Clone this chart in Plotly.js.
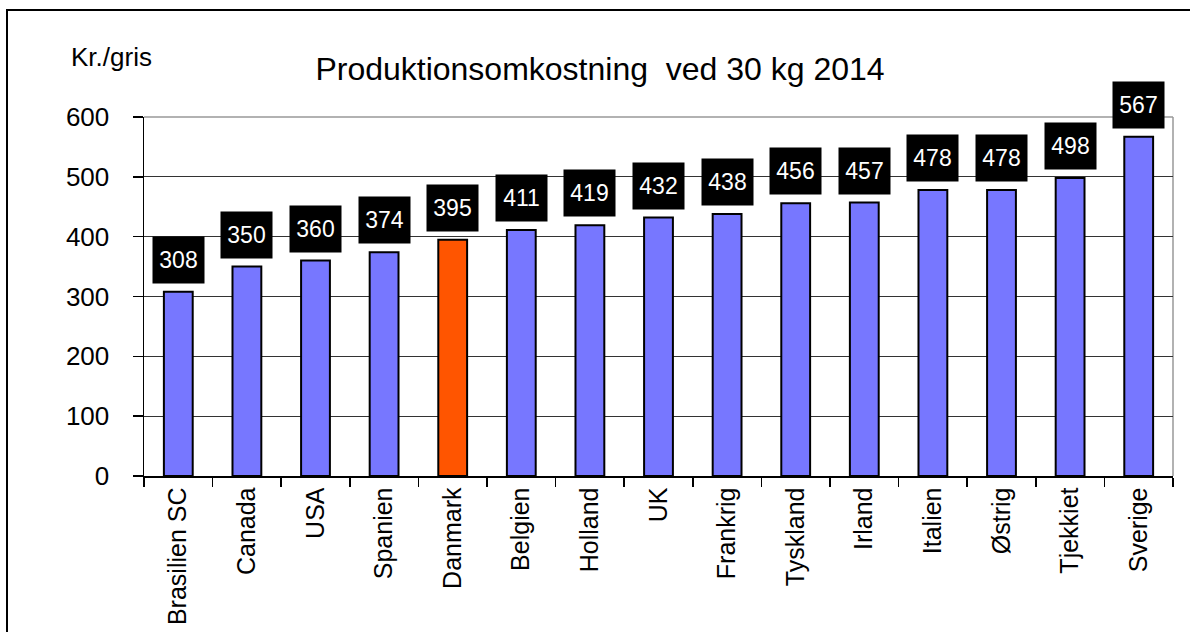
<!DOCTYPE html>
<html>
<head>
<meta charset="utf-8">
<script src="https://cdn.plot.ly/plotly-3.0.1.min.js"></script>
<style>
  html, body { margin: 0; padding: 0; background: #fff; overflow: hidden; }
  #wrap { position: relative; width: 1190px; height: 632px; }
  #chart { width: 1190px; height: 632px; }
  #frame { position: absolute; left: 6px; top: 9px; right: -20px; bottom: -20px;
           border-left: 2px solid #000; border-top: 2px solid #000; pointer-events: none; }
</style>
</head>
<body>
<div id="wrap">
  <div id="chart"></div>
  <div id="frame"></div>
</div>
<script>
const categories = ["Brasilien SC", "Canada", "USA", "Spanien", "Danmark", "Belgien", "Holland", "UK", "Frankrig", "Tyskland", "Irland", "Italien", "Østrig", "Tjekkiet", "Sverige"];
const values = [308, 350, 360, 374, 395, 411, 419, 432, 438, 456, 457, 478, 478, 498, 567];
const highlight = "Danmark";
const titleText = "Produktionsomkostning\u00a0 ved 30 kg 2014";
const unitText = "Kr./gris";

const blue = "#7777FF";
const orange = "#FF5500";
const colors = categories.map(c => c === highlight ? orange : blue);
const FONT = "Liberation Sans, Arial, sans-serif";

const trace = {
  type: "bar",
  x: categories,
  y: values,
  marker: { color: colors, line: { color: "#000", width: 2 } },
  hoverinfo: "x+y"
};

const annotations = categories.map((c, i) => ({
  x: c, y: values[i], xref: "x", yref: "y",
  text: String(values[i]),
  showarrow: false,
  yanchor: "bottom",
  yshift: 8,
  bgcolor: "#000",
  borderpad: 2,
  width: 47,
  height: 42,
  font: { family: FONT, size: 23, color: "#fff" }
}));
annotations.push({
  xref: "paper", yref: "paper",
  x: (69 - 144) / 1029, y: (476 - 57) / 359,
  xanchor: "left", yanchor: "middle",
  text: unitText, showarrow: false,
  font: { family: FONT, size: 26, color: "#000" }
});

const layout = {
  width: 1190, height: 632,
  margin: { l: 144, r: 17, t: 117, b: 156 },
  paper_bgcolor: "#fff", plot_bgcolor: "#fff",
  showlegend: false,
  bargap: 0.58,
  title: {
    text: titleText,
    xref: "container", x: 600 / 1190, xanchor: "center",
    yref: "container", y: 1 - 69 / 632, yanchor: "middle",
    font: { family: FONT, size: 32, color: "#000" }
  },
  xaxis: {
    type: "category",
    tickangle: -90,
    tickfont: { family: FONT, size: 25, color: "#000" },
    showline: true, linecolor: "#000", linewidth: 1.5,
    ticks: "outside", ticklen: 9, tickwidth: 1.5, tickcolor: "#000",
    tickson: "boundaries",
    showgrid: false,
    zeroline: false,
    fixedrange: true
  },
  yaxis: {
    range: [0, 600],
    dtick: 100, tick0: 0,
    tickfont: { family: FONT, size: 26, color: "#000" },
    showline: true, linecolor: "#000", linewidth: 1.5,
    ticks: "outside", ticklen: 10, tickwidth: 1.5, tickcolor: "#000",
    ticklabelstandoff: 18,
    showgrid: true, gridcolor: "#333", gridwidth: 1,
    zeroline: false,
    fixedrange: true
  },
  shapes: [
    { type: "line", xref: "paper", yref: "paper", x0: 0, x1: 1, y0: 1, y1: 1,
      line: { color: "#999", width: 1.5 }, layer: "above" },
    { type: "line", xref: "paper", yref: "paper", x0: 1, x1: 1, y0: 0, y1: 1,
      line: { color: "#999", width: 1.5 }, layer: "below" }
  ],
  annotations: annotations
};

Plotly.newPlot("chart", [trace], layout, { displayModeBar: false, staticPlot: true });
</script>
</body>
</html>
